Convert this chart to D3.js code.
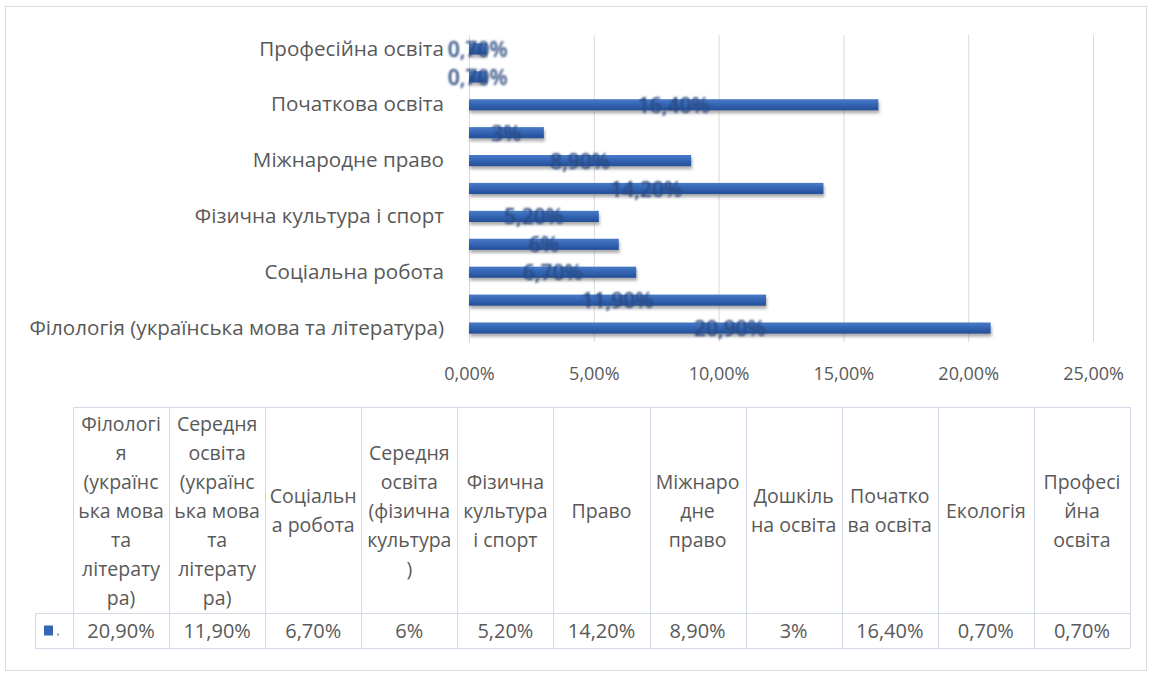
<!DOCTYPE html>
<html>
<head>
<meta charset="utf-8">
<script src="https://cdn.jsdelivr.net/npm/d3@7"></script>
<style>
  html, body { margin: 0; padding: 0; background: #ffffff; }
  svg { display: block; }
</style>
</head>
<body>
<svg id="chart" width="1153" height="677"></svg>
<script>
// Specialities, in the order of the data table (first = bottom bar)
const categories = [
  "Філологія (українська мова та література)",
  "Середня освіта (українська мова та література)",
  "Соціальна робота",
  "Середня освіта (фізична культура)",
  "Фізична культура і спорт",
  "Право",
  "Міжнародне право",
  "Дошкільна освіта",
  "Початкова освіта",
  "Екологія",
  "Професійна освіта"
];

// Share of respondents, %
const values = [20.9, 11.9, 6.7, 6, 5.2, 14.2, 8.9, 3, 16.4, 0.7, 0.7];

// Wrapped headings of the data table columns
const headerLines = [
  ["Філологі", "я", "(українс", "ька мова", "та", "літерату", "ра)"],
  ["Середня", "освіта", "(українс", "ька мова", "та", "літерату", "ра)"],
  ["Соціальн", "а робота"],
  ["Середня", "освіта", "(фізична", "культура", ")"],
  ["Фізична", "культура", "і спорт"],
  ["Право"],
  ["Міжнаро", "дне", "право"],
  ["Дошкіль", "на освіта"],
  ["Початко", "ва освіта"],
  ["Екологія"],
  ["Професі", "йна", "освіта"]
];

// Value axis ticks, %
const xTicks = [0, 5, 10, 15, 20, 25];

const FONT = "'Open Sans', 'Noto Sans', 'DejaVu Sans', sans-serif";
const TEXT = "#595959";
const GRID = "#d9d9d9";
const BAR = "#3466b4";
const TABLE_LINE = "#d3d9e6";

const uk = d3.formatLocale({ decimal: ",", thousands: " ", grouping: [3], currency: ["", ""] });
const fmtTick = v => uk.format(".2f")(v) + "%";
const fmtValue = v => (Number.isInteger(v) ? String(v) : uk.format(".2f")(v)) + "%";

const svg = d3.select("#chart");
const defs = svg.append("defs");

// Bar shading and soft shadow
const grad = defs.append("linearGradient").attr("id", "barGrad")
  .attr("x1", 0).attr("y1", 0).attr("x2", 0).attr("y2", 1);
grad.append("stop").attr("offset", "0%").attr("stop-color", "#4a7bc8");
grad.append("stop").attr("offset", "45%").attr("stop-color", BAR);
grad.append("stop").attr("offset", "100%").attr("stop-color", "#244f98");

const shadow = defs.append("filter").attr("id", "barShadow")
  .attr("x", "-5%").attr("y", "-50%").attr("width", "110%").attr("height", "220%");
shadow.append("feDropShadow").attr("dx", 1).attr("dy", 3).attr("stdDeviation", 1.6)
  .attr("flood-color", "#6b6b6b").attr("flood-opacity", 0.55);

const soft = defs.append("filter").attr("id", "labelSoft")
  .attr("x", "-10%").attr("y", "-30%").attr("width", "120%").attr("height", "160%");
soft.append("feGaussianBlur").attr("stdDeviation", 0.8);

// Chart frame
svg.append("rect")
  .attr("x", 5.5).attr("y", 6.5).attr("width", 1141).attr("height", 664)
  .attr("fill", "#ffffff").attr("stroke", "#dcdcdc");

// Scales
const x = d3.scaleLinear().domain([0, 25]).range([469, 1093]);
const y = d3.scaleBand().domain(d3.range(categories.length)).range([342, 35]);
const barH = y.step() * 0.4;

// Value axis with vertical gridlines
const xAxis = d3.axisBottom(x)
  .tickValues(xTicks)
  .tickFormat(fmtTick)
  .tickSize(-(y.range()[0] - y.range()[1]))
  .tickPadding(25);

const gx = svg.append("g")
  .attr("transform", `translate(0,${y.range()[0]})`)
  .call(xAxis);
gx.select(".domain").remove();
gx.selectAll(".tick line").attr("stroke", GRID).attr("stroke-width", 1);
gx.selectAll(".tick text")
  .attr("fill", TEXT)
  .style("font-family", FONT)
  .style("font-size", "18px");

// Category axis (every other label, as space allows)
const yAxis = d3.axisLeft(y)
  .tickValues(d3.range(0, categories.length, 2))
  .tickFormat(i => categories[i])
  .tickSize(0)
  .tickPadding(25);

const gy = svg.append("g")
  .attr("transform", `translate(${x(0)},0)`)
  .call(yAxis);
gy.select(".domain").attr("stroke", GRID);
gy.selectAll(".tick text")
  .attr("fill", TEXT)
  .style("font-family", FONT)
  .style("font-size", "20.6px");

// Bars
svg.append("g").selectAll("rect")
  .data(values)
  .join("rect")
  .attr("x", x(0))
  .attr("y", (d, i) => y(i) + y.bandwidth() / 2 - barH / 2)
  .attr("width", d => x(d) - x(0))
  .attr("height", barH)
  .attr("fill", "url(#barGrad)")
  .attr("filter", "url(#barShadow)");

// Value labels centred on the bars
svg.append("g").selectAll("text")
  .data(values)
  .join("text")
  .attr("x", d => x(d / 2))
  .attr("y", (d, i) => y(i) + y.bandwidth() / 2)
  .attr("text-anchor", "middle")
  .attr("dominant-baseline", "central")
  .attr("fill", "#2b4a80")
  .attr("filter", "url(#labelSoft)")
  .style("font-family", FONT)
  .style("font-size", "21px")
  .style("font-weight", 600)
  .text(fmtValue);

// Data table under the chart
const tableTop = 407, sepY = 613, tableBottom = 648, keyLeft = 35;
const col = d3.scaleBand().domain(d3.range(categories.length)).range([73, 1130]);
const table = svg.append("g");

table.append("line")
  .attr("x1", col.range()[0]).attr("x2", col.range()[1])
  .attr("y1", tableTop + 0.5).attr("y2", tableTop + 0.5);
table.append("line")
  .attr("x1", keyLeft).attr("x2", col.range()[1])
  .attr("y1", sepY + 0.5).attr("y2", sepY + 0.5);
table.append("line")
  .attr("x1", keyLeft).attr("x2", col.range()[1])
  .attr("y1", tableBottom + 0.5).attr("y2", tableBottom + 0.5);
table.append("line")
  .attr("x1", keyLeft + 0.5).attr("x2", keyLeft + 0.5)
  .attr("y1", sepY).attr("y2", tableBottom);
table.selectAll("line.v")
  .data(d3.range(categories.length + 1))
  .join("line")
  .attr("class", "v")
  .attr("x1", i => Math.round(i < categories.length ? col(i) : col.range()[1]) + 0.5)
  .attr("x2", i => Math.round(i < categories.length ? col(i) : col.range()[1]) + 0.5)
  .attr("y1", tableTop).attr("y2", tableBottom);
table.selectAll("line").attr("stroke", TABLE_LINE).attr("stroke-width", 1);

// Column headings
const lineGap = 29;
const headMid = (tableTop + sepY) / 2;
const heads = table.selectAll("g.head")
  .data(headerLines)
  .join("g")
  .attr("class", "head");
heads.selectAll("text")
  .data((lines, i) => lines.map((t, k) => ({ t, k, n: lines.length, i })))
  .join("text")
  .attr("x", d => col(d.i) + col.bandwidth() / 2)
  .attr("y", d => headMid + (d.k - (d.n - 1) / 2) * lineGap)
  .attr("text-anchor", "middle")
  .attr("dominant-baseline", "central")
  .attr("fill", TEXT)
  .style("font-family", FONT)
  .style("font-size", "19.5px")
  .text(d => d.t);

// Value row
const rowMid = (sepY + tableBottom) / 2;
table.selectAll("text.val")
  .data(values)
  .join("text")
  .attr("class", "val")
  .attr("x", (d, i) => col(i) + col.bandwidth() / 2)
  .attr("y", rowMid)
  .attr("text-anchor", "middle")
  .attr("dominant-baseline", "central")
  .attr("fill", TEXT)
  .style("font-family", FONT)
  .style("font-size", "20px")
  .text(fmtValue);

// Legend key of the series
table.append("rect")
  .attr("x", 44).attr("y", rowMid - 5).attr("width", 9).attr("height", 10)
  .attr("fill", BAR);
table.append("circle")
  .attr("cx", 58).attr("cy", rowMid + 4).attr("r", 1)
  .attr("fill", "#7f7f7f");
</script>
</body>
</html>
